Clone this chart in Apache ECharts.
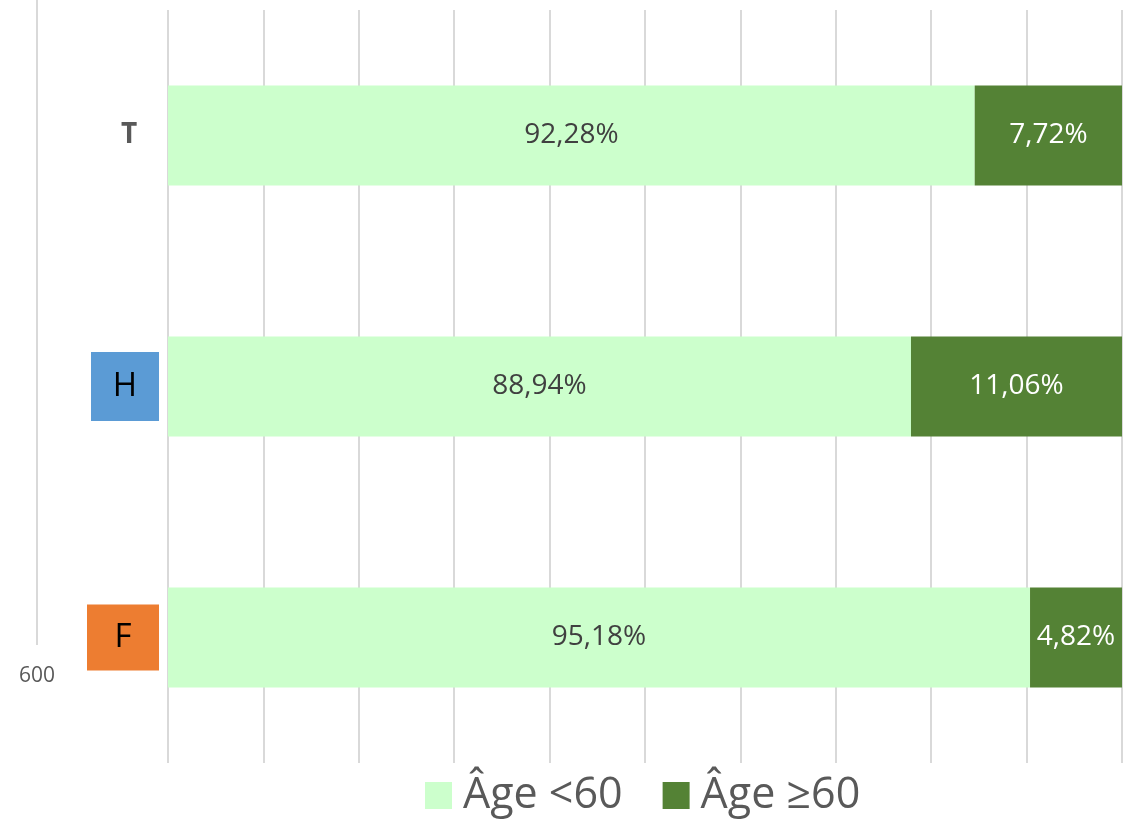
<!DOCTYPE html>
<html>
<head>
<meta charset="utf-8">
<script src="https://cdn.jsdelivr.net/npm/echarts@6/dist/echarts.min.js"></script>
<style>
  html, body { margin: 0; padding: 0; background: #fff; }
  #chart { width: 1140px; height: 819px; }
</style>
</head>
<body>
<div id="chart"></div>
<script>
  // Chart data
  const categories = ['T', 'H', 'F'];
  const seriesNames = ['Âge <60', 'Âge ≥60'];
  const under60 = [92.28, 88.94, 95.18];
  const over60 = [7.72, 11.06, 4.82];
  const strayTick = '600';

  const FONT = '"Open Sans", "Noto Sans", sans-serif';

  function pct(p) {
    return p.value.toFixed(2).replace('.', ',') + '%';
  }

  const chart = echarts.init(document.getElementById('chart'));

  chart.setOption({
    animation: false,
    textStyle: { fontFamily: FONT },
    grid: { left: 168, right: 18, top: 10, bottom: 56, containLabel: false },
    legend: {
      bottom: -3,
      left: 420,
      icon: 'rect',
      itemWidth: 27,
      itemHeight: 27,
      itemGap: 40,
      textStyle: { fontSize: 43, color: '#595959', fontFamily: FONT, padding: [0, 0, 0, 6] },
      data: seriesNames
    },
    xAxis: {
      type: 'value',
      min: 50,
      max: 100,
      interval: 5,
      axisLabel: { show: false },
      axisLine: { show: false },
      axisTick: { show: false },
      splitLine: { lineStyle: { color: '#d9d9d9', width: 2 } }
    },
    yAxis: {
      type: 'category',
      inverse: true,
      data: categories,
      axisLine: { show: false },
      axisTick: { show: false },
      axisLabel: {
        margin: 9,
        formatter: v => '{' + v.toLowerCase() + '|' + v + '}',
        rich: {
          t: { width: 60, align: 'center', fontSize: 28, fontWeight: 'bold', color: '#595959', fontFamily: FONT },
          h: { width: 68, height: 69, align: 'center', fontSize: 33, color: '#000', backgroundColor: '#5B9BD5', fontFamily: FONT },
          f: { width: 72, height: 66, align: 'center', fontSize: 33, color: '#000', backgroundColor: '#ED7D31', fontFamily: FONT }
        }
      }
    },
    series: [
      {
        name: seriesNames[0],
        type: 'bar',
        stack: 'total',
        barWidth: 100,
        data: under60,
        itemStyle: { color: '#CCFFCC' },
        label: { show: true, position: 'inside', formatter: pct, fontSize: 28, color: '#404040', fontFamily: FONT }
      },
      {
        name: seriesNames[1],
        type: 'bar',
        stack: 'total',
        barWidth: 100,
        data: over60,
        itemStyle: { color: '#548235' },
        label: { show: true, position: 'inside', formatter: pct, fontSize: 28, color: '#ffffff', fontFamily: FONT }
      }
    ],
    graphic: [
      {
        type: 'line',
        shape: { x1: 37, y1: 0, x2: 37, y2: 645 },
        style: { stroke: '#d9d9d9', lineWidth: 2 }
      },
      {
        type: 'text',
        x: 37,
        y: 676,
        style: { text: strayTick, fontSize: 21, fill: '#595959', fontFamily: FONT, textAlign: 'center', textVerticalAlign: 'middle' }
      }
    ]
  });
</script>
</body>
</html>
